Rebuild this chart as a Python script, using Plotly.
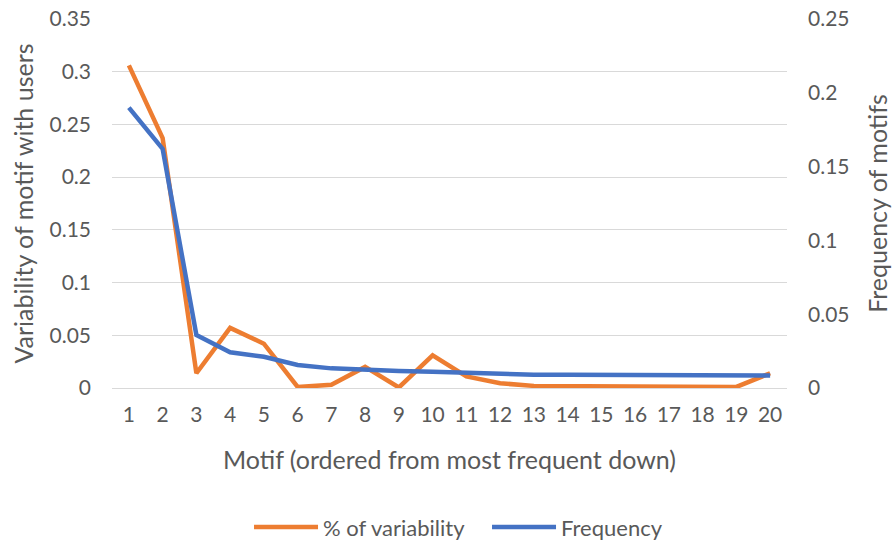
import plotly.graph_objects as go

motifs = list(range(1, 21))
variability = [0.306, 0.237, 0.014, 0.057, 0.042, 0.001, 0.003, 0.020, 0.0005, 0.031,
               0.011, 0.0045, 0.002, 0.002, 0.002, 0.0015, 0.0018, 0.0015, 0.001, 0.014]
frequency = [0.190, 0.162, 0.0359, 0.0242, 0.0212, 0.0156, 0.0133, 0.0122, 0.0115, 0.011,
             0.0104, 0.0093, 0.0090, 0.0089, 0.0088, 0.0087, 0.0086, 0.0085, 0.0085, 0.0085]

FONT = "Lato"
GREY = "#595959"

fig = go.Figure()
fig.add_trace(go.Scatter(x=motifs, y=variability, mode="lines", name="% of variability",
                         line=dict(color="#ED7D31", width=4.5), yaxis="y"))
fig.add_trace(go.Scatter(x=motifs, y=frequency, mode="lines", name="Frequency",
                         line=dict(color="#4472C4", width=4.5), yaxis="y2"))

fig.update_layout(
    width=894, height=541,
    margin=dict(l=112, r=107, t=19, b=153, autoexpand=False),
    paper_bgcolor="white", plot_bgcolor="white",
    font=dict(family=FONT, size=21, color=GREY),
    xaxis=dict(range=[0.5, 20.5], tickmode="array", tickvals=motifs,
               ticktext=[str(m) for m in motifs], showgrid=False, zeroline=False,
               showline=False, ticks="", ticklabelstandoff=12, automargin=False,
               tickfont=dict(size=21, color=GREY),
               title=dict(text="Motif (ordered from most frequent down)", standoff=26,
                          font=dict(size=25, color=GREY))),
    yaxis=dict(range=[0, 0.35], dtick=0.05, showgrid=True, gridcolor="#d9d9d9", gridwidth=1.3,
               zeroline=True, zerolinecolor="#d9d9d9", zerolinewidth=1.3, ticks="",
               ticklabelstandoff=20, tickfont=dict(size=21, color=GREY), automargin=False,
               title=dict(text="Variability of motif with users", standoff=8,
                          font=dict(size=25, color=GREY))),
    yaxis2=dict(range=[0, 0.25], dtick=0.05, overlaying="y", side="right", showgrid=False,
                zeroline=False, ticks="", ticklabelstandoff=20, automargin=False,
                tickfont=dict(size=21, color=GREY),
                title=dict(text="Frequency of motifs", standoff=20,
                           font=dict(size=25, color=GREY))),
    legend=dict(orientation="h", x=0.203, xanchor="left", y=-0.377, yanchor="middle",
                font=dict(size=22, color=GREY), itemwidth=64, entrywidth=159,
                entrywidthmode="pixels"),
    showlegend=True,
)

fig.write_html("out.html")
